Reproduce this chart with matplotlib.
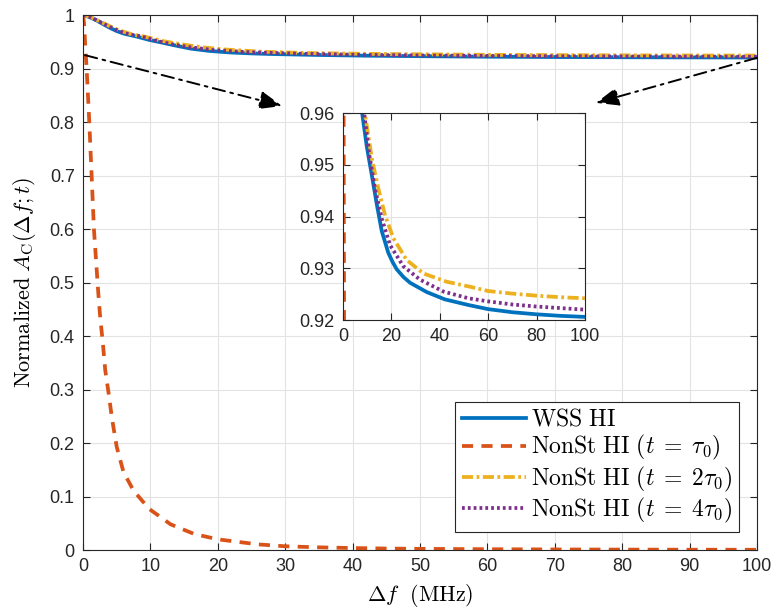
import matplotlib
matplotlib.use("Agg")
import matplotlib.pyplot as plt
from matplotlib.ticker import FuncFormatter
import numpy as np

plt.rcParams['mathtext.fontset'] = 'cm'
plt.rcParams['font.family'] = ['Liberation Sans', 'DejaVu Sans']
plt.rcParams['lines.scale_dashes'] = False

# ---- data ----
x_wss = [0, 1, 2, 3, 4, 5, 6, 7, 7.9, 9.8, 11.9, 13.9, 16, 18.7, 20.5, 22.2, 25, 27.7, 34.6, 42, 51.8, 60, 70, 80, 90, 100]
y_wss = [1.0, 0.996, 0.990, 0.983, 0.976, 0.970, 0.9655, 0.9625, 0.9600, 0.9536, 0.9480, 0.9425, 0.9372, 0.9330,
         0.9312, 0.9298, 0.9283, 0.9272, 0.9254, 0.9240, 0.9229, 0.9221, 0.9215, 0.9211, 0.9208, 0.9206]

x_t1 = [0, 0.15, 0.3, 0.55, 0.94, 1.29, 1.63, 2.27, 2.55, 2.95, 3.3, 3.8, 4.3, 5.0, 6.0, 7.5, 9.8, 13.0, 16.5,
        20, 26, 30, 35, 40, 45, 50, 60, 70, 80, 90, 100]
y_t1 = [1.0, 0.985, 0.95, 0.897, 0.798, 0.697, 0.598, 0.48, 0.435, 0.386, 0.336, 0.293, 0.246, 0.193, 0.146,
        0.111, 0.077, 0.048, 0.030, 0.020, 0.0105, 0.007, 0.005, 0.0037, 0.0028, 0.0022, 0.0015, 0.0011,
        0.0008, 0.0006, 0.0005]

x_t2 = [0, 1, 2, 3, 4, 5, 6, 7, 8, 9, 10, 12, 14.6, 17.4, 20.8, 26.3, 33.2, 42.8, 51.8, 60, 70, 80, 90, 100]
y_t2 = [1.0, 0.997, 0.991, 0.985, 0.979, 0.9735, 0.969, 0.965, 0.962, 0.9600, 0.9570, 0.9510, 0.9454, 0.9402,
        0.9358, 0.9316, 0.9290, 0.9274, 0.9265, 0.9256, 0.9251, 0.9247, 0.9244, 0.9242]

x_t4 = [0, 1, 2, 3, 4, 5, 6, 7, 8.7, 10.9, 13.2, 16, 19.4, 24.9, 31.8, 41.5, 51.8, 60, 70, 80, 90, 100]
y_t4 = [1.0, 0.9965, 0.9905, 0.984, 0.9775, 0.9718, 0.967, 0.9635, 0.9600, 0.9518, 0.9454, 0.9396, 0.9345,
        0.9304, 0.9278, 0.9255, 0.9242, 0.9236, 0.9230, 0.9226, 0.9223, 0.9220]

labels = [r'$\mathrm{WSS\ HI}$',
          r'$\mathrm{NonSt\ HI}\ (t\;=\;\tau_0)$',
          r'$\mathrm{NonSt\ HI}\ (t\;=\;2\tau_0)$',
          r'$\mathrm{NonSt\ HI}\ (t\;=\;4\tau_0)$']
colors = ['#0072BD', '#D95319', '#EDB120', '#7E2F8E']

main_xticks = list(range(0, 101, 10))
main_yticks = [0, 0.1, 0.2, 0.3, 0.4, 0.5, 0.6, 0.7, 0.8, 0.9, 1.0]
inset_xticks = [0, 20, 40, 60, 80, 100]
inset_yticks = [0.92, 0.93, 0.94, 0.95, 0.96]

fig = plt.figure(figsize=(7.75, 6.16), dpi=100)
ax = fig.add_axes([0.1071, 0.1071, 0.8697, 0.8685])

LW = 2.7
styles = [dict(linestyle='-'),
          dict(linestyle=(0, (8, 6))),
          dict(linestyle=(0, (8, 2.5, 2, 2.5))),
          dict(linestyle=(0, (2, 2.2)))]
series = [(x_wss, y_wss), (x_t1, y_t1), (x_t2, y_t2), (x_t4, y_t4)]

def draw(a):
    hs = []
    for (xs, ys), c, st, lab in zip(series, colors, styles, labels):
        h, = a.plot(xs, ys, color=c, lw=LW, label=lab, dash_capstyle='butt',
                    solid_joinstyle='round', **st)
        hs.append(h)
    return hs

def style_axes(a, xt, yt, xl, yl):
    a.set_xlim(*xl)
    a.set_ylim(*yl)
    a.set_xticks(xt)
    a.set_yticks(yt)
    a.xaxis.set_major_formatter(FuncFormatter(lambda v, p: '%g' % round(v, 4)))
    a.yaxis.set_major_formatter(FuncFormatter(lambda v, p: '%g' % round(v, 4)))
    a.grid(True, color='#e3e3e3', lw=0.8)
    a.set_axisbelow(True)
    a.tick_params(direction='in', length=5, width=0.8, top=True, right=True,
                  labelsize=13, colors='#262626', pad=6)
    for s in a.spines.values():
        s.set_color('#262626')
        s.set_linewidth(0.8)

hs = draw(ax)
style_axes(ax, main_xticks, main_yticks, (0, 100), (0, 1))
ax.set_xlabel(r'$\Delta f\ \ \mathrm{(MHz)}$', fontsize=16, labelpad=5)
ax.set_ylabel(r'$\mathrm{Normalized}\ A_{\mathrm{C}}(\Delta f;t)$', fontsize=16, labelpad=8)

leg = ax.legend(handles=hs, loc='lower right', fontsize=17, handlelength=2.7, handletextpad=0.2,
                borderaxespad=0.75, fancybox=False, framealpha=1, edgecolor='#262626',
                labelspacing=0.1, borderpad=0.3)
leg.get_frame().set_linewidth(0.8)

# arrows
for (xd, yd), (fx, fy) in [((0.3, 0.925), (0.364, 0.828)), ((100, 0.92), (0.769, 0.833))]:
    ax.annotate('', xy=(fx, fy), xycoords='figure fraction', xytext=(xd, yd), textcoords='data',
                arrowprops=dict(arrowstyle='-|>,head_length=1.0,head_width=0.4', color='black', lw=1.4,
                                linestyle=(0, (9, 4, 2, 4)), shrinkA=0, shrinkB=0, mutation_scale=14))

axin = fig.add_axes([0.4426, 0.4805, 0.3123, 0.336])
draw(axin)
style_axes(axin, inset_xticks, inset_yticks, (0, 100), (0.92, 0.96))
axin.set_facecolor('white')

fig.savefig('out.png', dpi=100)
